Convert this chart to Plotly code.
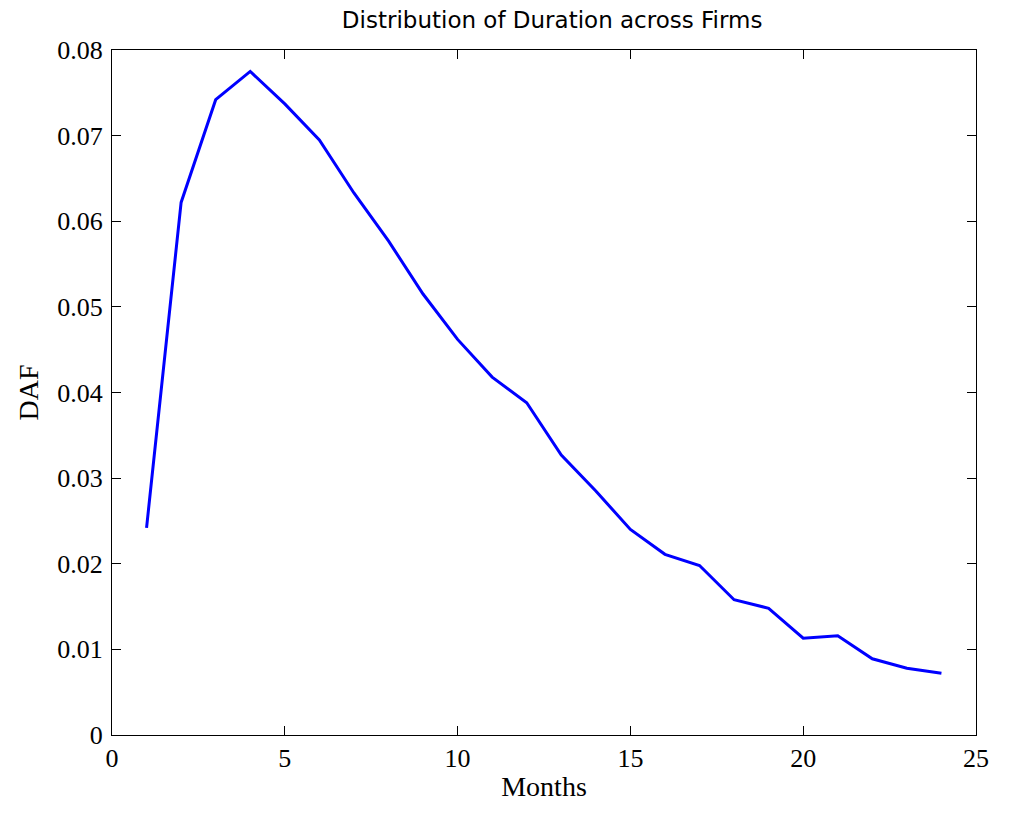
import plotly.graph_objects as go

months = list(range(1, 25))
daf = [0.0242, 0.0622, 0.0742, 0.0775, 0.0737, 0.0695, 0.0633, 0.0577, 0.0515, 0.0462,
       0.0418, 0.0388, 0.0327, 0.0285, 0.0240, 0.0211, 0.0198, 0.0158, 0.0148, 0.0113,
       0.0116, 0.0089, 0.0078, 0.0072]

x_ticks = [0, 5, 10, 15, 20, 25]
y_ticks = [0, 0.01, 0.02, 0.03, 0.04, 0.05, 0.06, 0.07, 0.08]
y_labels = ["0", "0.01", "0.02", "0.03", "0.04", "0.05", "0.06", "0.07", "0.08"]

fig = go.Figure()
fig.add_trace(go.Scatter(x=months, y=daf, mode="lines",
                         line=dict(color="#0000ff", width=3), showlegend=False))

axis_common = dict(showgrid=False, zeroline=False, showline=True, linecolor="black",
                   linewidth=1, mirror="allticks", ticks="inside", ticklen=9,
                   tickcolor="black",
                   tickfont=dict(family="Liberation Serif", size=26, color="black"))

fig.update_xaxes(range=[0, 25], tickvals=x_ticks, ticktext=[str(v) for v in x_ticks],
                 title=dict(text="Months", font=dict(family="Liberation Serif", size=28, color="black"), standoff=4),
                 **axis_common)
fig.update_yaxes(range=[0, 0.08], tickvals=y_ticks, ticktext=y_labels, ticklabelstandoff=3,
                 title=dict(text="DAF", font=dict(family="Liberation Serif", size=28, color="black"), standoff=10),
                 **axis_common)

fig.update_layout(
    width=993, height=801,
    margin=dict(l=104, r=14, t=42, b=67),
    plot_bgcolor="white", paper_bgcolor="white",
    title=dict(text="Distribution of Duration across Firms", x=0.548, xref="container", xanchor="center",
               y=0.985, yref="container", yanchor="middle",
               font=dict(family="DejaVu Sans", size=23, color="black")),
)

fig.write_html("out.html", config={"displayModeBar": False})
